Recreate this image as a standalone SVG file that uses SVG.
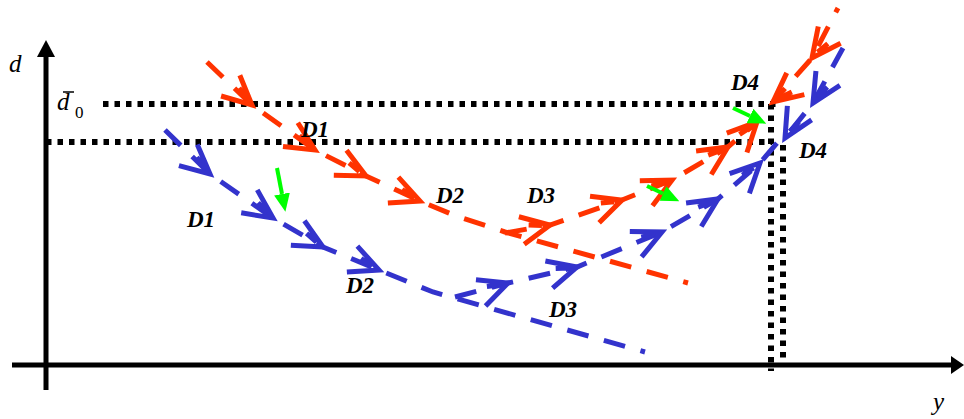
<svg xmlns="http://www.w3.org/2000/svg" xmlns:xlink="http://www.w3.org/1999/xlink" width="964" height="419" viewBox="0 0 964 419">
<style>
.ax{stroke:#000;stroke-width:5;fill:none}
.dot{stroke:#000;stroke-width:6;fill:none;stroke-dasharray:5.5 6}
.r{stroke:#ff3300;stroke-width:5;fill:none;stroke-dasharray:22 16}
.b{stroke:#3333cc;stroke-width:5;fill:none;stroke-dasharray:22 16}
.rc{stroke:#ff3300;stroke-width:5;fill:none}
.bc{stroke:#3333cc;stroke-width:5;fill:none}
.g{stroke:#00ff00;stroke-width:4;fill:none}
.lbl{font-family:"Liberation Serif","Times New Roman",serif;font-style:italic;font-weight:bold;font-size:23px;fill:#000}
.ax-lbl{font-family:"Liberation Serif","Times New Roman",serif;font-style:italic;font-size:25px;fill:#000}
.sub{font-family:"Liberation Serif","Times New Roman",serif;font-size:17px;fill:#000}
</style>
<defs>
<path id="chev" d="M-29,-14 L0,0 L-29,14 M-21,-4 L-8,-1"/>
<marker id="ga" markerWidth="18" markerHeight="16" refX="0" refY="8" orient="auto" markerUnits="userSpaceOnUse"><path d="M0,0 L18,8 L0,16 z" fill="#00ff00"/></marker>
</defs>

<g id="axes">
<line class="ax" x1="46" y1="390" x2="46" y2="54"/>
<polygon points="46,40 37,57 55,57" fill="#000"/>
<line class="ax" x1="12" y1="365" x2="952" y2="365"/>
<polygon points="964,365 951,356 951,374" fill="#000"/>
</g>

<g id="guides">
<line class="dot" x1="103" y1="104" x2="776" y2="104"/>
<line class="dot" x1="46" y1="142" x2="772" y2="142"/>
<line class="dot" x1="771" y1="104" x2="771" y2="371"/>
<line class="dot" x1="783" y1="145" x2="783" y2="363"/>
</g>

<g id="connectors">
<g id="red-trajectory">
<path class="r" d="M207,62 L252,105 L315,150 L366,176 L420,201 L456,216 L505,232 L688,283"/>
<path class="r" d="M505,233 L550,225 L622,200 L672,180 L728,147 L757,122"/>
<path class="r" d="M838,8 L812,58 L773,102" stroke-dashoffset="17"/>
<g class="rc">
<use xlink:href="#chev" transform="translate(252,105) rotate(42)"/>
<use xlink:href="#chev" transform="translate(315,150) rotate(32)"/>
<use xlink:href="#chev" transform="translate(366,176) rotate(27)"/>
<use xlink:href="#chev" transform="translate(420,201) rotate(22)"/>
<use xlink:href="#chev" transform="translate(550,225) rotate(-11)"/>
<use xlink:href="#chev" transform="translate(622,200) rotate(-19)"/>
<use xlink:href="#chev" transform="translate(672,180) rotate(-27)"/>
<use xlink:href="#chev" transform="translate(728,147) rotate(-33)"/>
<use xlink:href="#chev" transform="translate(757,122) rotate(-46)"/>
<use xlink:href="#chev" transform="translate(812,58) rotate(127)"/>
<use xlink:href="#chev" transform="translate(773,102) rotate(141)"/>
</g>
</g>
<g id="blue-trajectory">
<path class="b" d="M165,130 L210,174 L273,218 L323,247 L379,270 L433,292 L645,352"/>
<path class="b" d="M455,297 L508,283 L577,267 L662,232 L718,199 L760,163 L777,143"/>
<path class="b" d="M843,48 L813,103 L785,138"/>
<g class="bc">
<use xlink:href="#chev" transform="translate(210,174) rotate(41)"/>
<use xlink:href="#chev" transform="translate(273,218) rotate(35)"/>
<use xlink:href="#chev" transform="translate(323,247) rotate(29)"/>
<use xlink:href="#chev" transform="translate(379,270) rotate(22)"/>
<use xlink:href="#chev" transform="translate(508,283) rotate(-20)"/>
<use xlink:href="#chev" transform="translate(577,267) rotate(-15)"/>
<use xlink:href="#chev" transform="translate(662,232) rotate(-25)"/>
<use xlink:href="#chev" transform="translate(718,199) rotate(-33)"/>
<use xlink:href="#chev" transform="translate(760,163) rotate(-45)"/>
<use xlink:href="#chev" transform="translate(813,103) rotate(121)"/>
<use xlink:href="#chev" transform="translate(785,138) rotate(120)"/>
</g>
</g>
<g id="green-arrows">
<line class="g" x1="277" y1="168" x2="282" y2="194" marker-end="url(#ga)"/>
<line class="g" x1="647" y1="186" x2="663" y2="193.5" marker-end="url(#ga)"/>
<line class="g" x1="733" y1="108" x2="750" y2="116" marker-end="url(#ga)"/>
</g>
</g>

<g id="labels">
<text class="ax-lbl" x="9" y="72">d</text>
<text class="ax-lbl" x="57" y="110">d</text>
<line x1="63" y1="92" x2="74" y2="92" stroke="#000" stroke-width="1.5"/>
<text class="sub" x="75" y="118">0</text>
<text class="ax-lbl" x="933" y="410">y</text>
<text class="lbl" x="301" y="137">D1</text>
<text class="lbl" x="187" y="227">D1</text>
<text class="lbl" x="436" y="203">D2</text>
<text class="lbl" x="527" y="203">D3</text>
<text class="lbl" x="346" y="293">D2</text>
<text class="lbl" x="549" y="317">D3</text>
<text class="lbl" x="731" y="90">D4</text>
<text class="lbl" x="799" y="158">D4</text>
</g>
</svg>
